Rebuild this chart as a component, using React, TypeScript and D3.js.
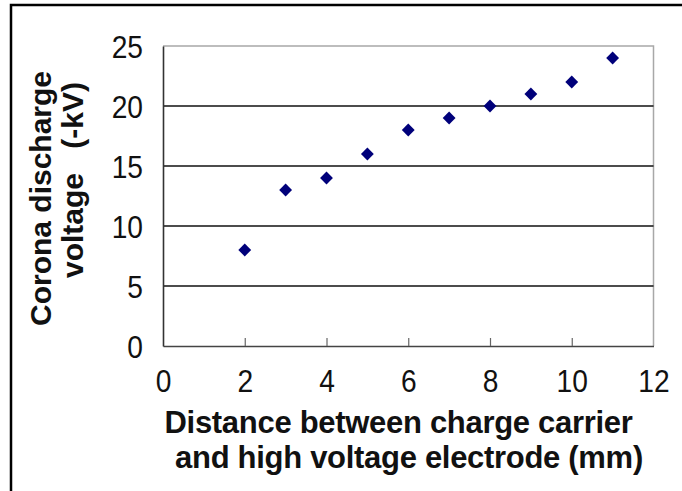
import React, { useEffect, useRef } from 'react';
import * as d3 from 'd3';

// Data
const distances = [2, 3, 4, 5, 6, 7, 8, 9, 10, 11];
const voltages = [8, 13, 14, 16, 18, 19, 20, 21, 22, 24];
const xTicks = [0, 2, 4, 6, 8, 10, 12];
const yTicks = [0, 5, 10, 15, 20, 25];
const xTitleLines = ['Distance between charge carrier', 'and high voltage electrode (mm)'];
const yTitleLines = ['Corona discharge', 'voltage', '(-kV)'];

const W = 682, H = 491;
const margin = { top: 46, right: 28.5, bottom: 145, left: 163 };
const FONT = '"Liberation Sans", Arial, sans-serif';

export default function App() {
  const ref = useRef<SVGSVGElement | null>(null);

  useEffect(() => {
    if (!ref.current) return;
    const svg = d3.select(ref.current);
    svg.selectAll('*').remove();

    const x = d3.scaleLinear().domain([0, 12]).range([margin.left, W - margin.right]);
    const y = d3.scaleLinear().domain([0, 25]).range([H - margin.bottom, margin.top]);

    svg.append('rect').attr('width', W).attr('height', H).attr('fill', '#fff');

    // outer frame (only top and left edges show)
    svg.append('path')
      .attr('d', `M11,${H} L11,5 L${W},5`)
      .attr('fill', 'none')
      .attr('stroke', '#000')
      .attr('stroke-width', 2.5);

    // plot border: top and right in grey
    svg.append('path')
      .attr('d', `M${x(0)},${y(25)} L${x(12)},${y(25)} L${x(12)},${y(0)}`)
      .attr('fill', 'none')
      .attr('stroke', '#a8a8a8')
      .attr('stroke-width', 1.5);

    // gridlines
    svg.append('g')
      .selectAll('line')
      .data(yTicks.filter(t => t > 0 && t < 25))
      .join('line')
        .attr('x1', x(0)).attr('x2', x(12))
        .attr('y1', d => y(d)).attr('y2', d => y(d))
        .attr('stroke', '#111')
        .attr('stroke-width', 1.6);

    // axes
    const xAxis = svg.append('g')
      .attr('transform', `translate(0,${y(0)})`)
      .call(d3.axisBottom(x).tickValues(xTicks).tickSizeInner(-8).tickSizeOuter(0));
    xAxis.select('.domain').attr('stroke', '#444').attr('stroke-width', 1.6);
    xAxis.selectAll('.tick line').attr('stroke', '#666').attr('stroke-width', 1.2)
      .attr('display', (d: any) => (d === 0 || d === 12 ? 'none' : null));
    xAxis.selectAll('.tick text')
      .attr('font-family', FONT).attr('font-size', 32).attr('fill', '#111')
      .attr('dy', null).attr('y', 0)
      .attr('transform', 'translate(0,46) scale(0.88,1)');

    const yAxis = svg.append('g')
      .attr('transform', `translate(${x(0)},0)`)
      .call(d3.axisLeft(y).tickValues(yTicks).tickSize(0));
    yAxis.select('.domain').attr('stroke', '#333').attr('stroke-width', 1.6);
    yAxis.selectAll('.tick text')
      .attr('font-family', FONT).attr('font-size', 32).attr('fill', '#111')
      .attr('x', 0).attr('dy', '0.36em')
      .attr('transform', 'translate(-20,0) scale(0.88,1)');

    // points
    const symbol = d3.symbol().type(d3.symbolDiamond2).size(105);
    svg.append('g')
      .selectAll('path')
      .data(distances.map((d, i) => ({ d, v: voltages[i] })))
      .join('path')
        .attr('transform', p => `translate(${x(p.d)},${y(p.v)})`)
        .attr('d', symbol)
        .attr('fill', '#00007a');

    // x title
    svg.append('g')
      .selectAll('text')
      .data(xTitleLines)
      .join('text')
        .attr('x', (_, i) => (i === 0 ? 398.5 : 409))
        .attr('y', (_, i) => (i === 0 ? 433 : 468))
        .attr('text-anchor', 'middle')
        .attr('font-family', FONT)
        .attr('font-weight', 'bold')
        .attr('font-size', 31)
        .attr('letter-spacing', -0.3)
        .attr('fill', '#111')
        .text(d => d);

    // y title
    const yt = svg.append('g').attr('font-family', FONT).attr('font-weight', 'bold')
      .attr('font-size', 30).attr('fill', '#111');
    yt.append('text')
      .attr('transform', 'translate(51,198.5) rotate(-90)')
      .attr('text-anchor', 'middle')
      .text(yTitleLines[0]);
    yt.append('text')
      .attr('transform', 'translate(83,278) rotate(-90)')
      .attr('text-anchor', 'start')
      .text(yTitleLines[1]);
    yt.append('text')
      .attr('transform', 'translate(83,82) rotate(-90)')
      .attr('text-anchor', 'end')
      .text(yTitleLines[2]);
  }, []);

  return (
    <svg
      ref={ref}
      width={W}
      height={H}
      viewBox={`0 0 ${W} ${H}`}
      style={{ position: 'absolute', left: 0, top: 0, display: 'block' }}
    />
  );
}
